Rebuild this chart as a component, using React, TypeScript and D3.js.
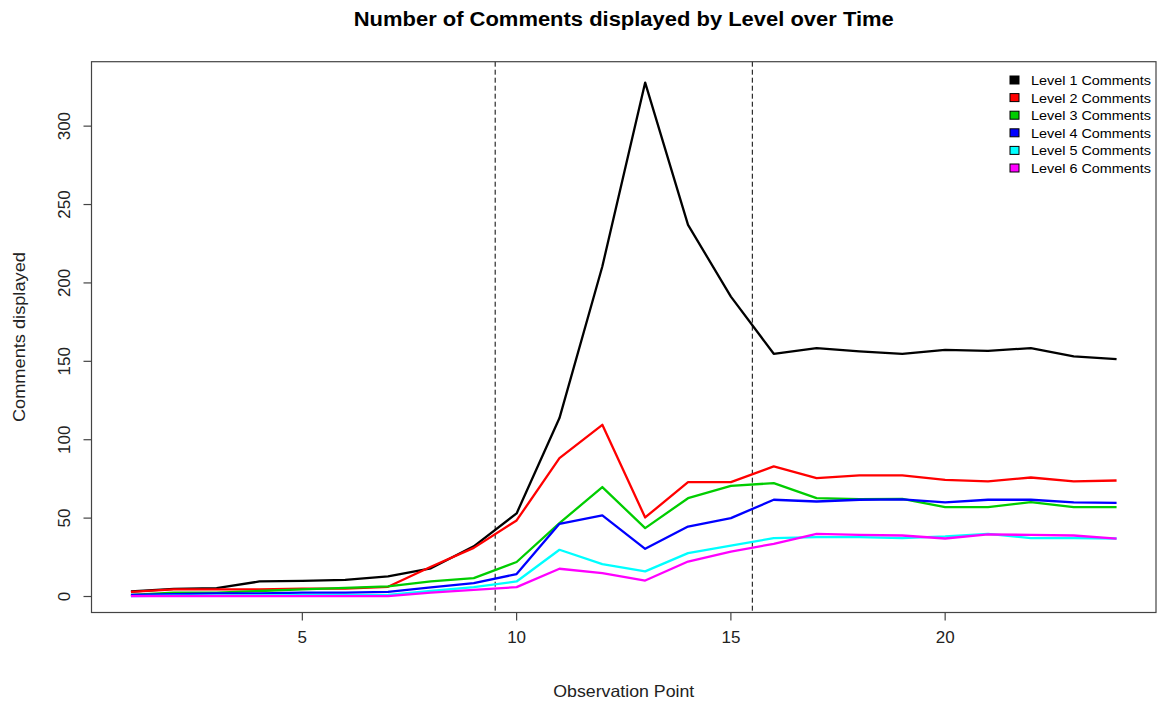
import React from "react";
import * as d3 from "d3";

const obs = d3.range(1, 25);
const level1 = [3.2, 4.9, 5.3, 9.6, 10, 10.6, 12.8, 18, 32, 53, 113.8, 210.5, 327.8, 237, 191.3, 154.8, 158.4, 156.3, 154.8, 157.3, 156.7, 158.4, 153.1, 151.4];
const level2 = [3, 4.5, 4.5, 4.5, 5, 5, 6.2, 19, 31, 48.5, 88.3, 109.5, 50.4, 73, 73, 83, 75.5, 77.2, 77.2, 74.4, 73.4, 75.9, 73.4, 74];
const level3 = [1, 2.5, 2.5, 3.5, 4.5, 5.5, 6.5, 9.6, 11.7, 22, 46.8, 69.8, 43.6, 62.7, 70.6, 72.3, 62.7, 62.1, 62.3, 57, 57, 60.2, 57, 57];
const level4 = [1, 1.5, 2, 2, 2.5, 2.5, 3, 5.8, 8.5, 14.3, 46.4, 51.7, 30.4, 44.6, 50, 61.7, 60.6, 61.7, 62, 60, 61.7, 61.7, 60, 59.7];
const level5 = [0.3, 0.5, 0.6, 0.7, 0.8, 0.9, 1, 3.5, 6, 9.6, 29.8, 20.6, 16, 27.7, 32.5, 37.2, 37.9, 37.9, 37.3, 38.3, 40, 37.3, 37.3, 37];
const level6 = [0.3, 0.3, 0.3, 0.3, 0.3, 0.3, 0.3, 2.5, 4.2, 6, 17.7, 14.9, 10.2, 22.3, 28.7, 33.6, 40, 39.3, 38.9, 37, 39.6, 39.3, 38.9, 36.9];

const seriesNames = ["Level 1 Comments", "Level 2 Comments", "Level 3 Comments", "Level 4 Comments", "Level 5 Comments", "Level 6 Comments"];
const seriesValues = [level1, level2, level3, level4, level5, level6];
const seriesColors = ["#000000", "#FF0000", "#00CD00", "#0000FF", "#00FFFF", "#FF00FF"];
const xTicks = [5, 10, 15, 20];
const yTicks = [0, 50, 100, 150, 200, 250, 300];
const vLines = [9.5, 15.5];

const W = 1160, H = 702;
const L = 91.5, R = 1156, T = 61.7, B = 612.5;
const FONT = "'Liberation Sans', Arial, sans-serif";

export default function App() {
  const x = d3.scaleLinear().domain([0.08, 24.92]).range([L, R]);
  const y = d3.scaleLinear().domain([-10.2, 341.1]).range([B, T]);
  const line = d3.line<number>().x((_, i) => x(obs[i])).y((d) => y(d));
  const legX = 1010, legY0 = 80, legDy = 17.6;
  return (
    <svg width={W} height={H} style={{ position: "absolute", left: 0, top: 0, background: "#fff" }} fontFamily={FONT}>
      <rect x={0} y={0} width={W} height={H} fill="#fff" />
      <text x={(L + R) / 2} y={26} textAnchor="middle" fontWeight="bold" fontSize={19.5} fill="#000" textLength={540} lengthAdjust="spacingAndGlyphs">
        Number of Comments displayed by Level over Time
      </text>
      {vLines.map((v) => (
        <line key={v} x1={x(v)} x2={x(v)} y1={T} y2={B} stroke="#000" strokeWidth={1} strokeDasharray="5,3" />
      ))}
      {seriesValues.map((vals, k) => (
        <path key={k} d={line(vals) || ""} fill="none" stroke={seriesColors[k]} strokeWidth={2.3} strokeLinejoin="round" />
      ))}
      <rect x={L} y={T} width={R - L} height={B - T} fill="none" stroke="#444" strokeWidth={1.2} />
      {xTicks.map((t) => (
        <g key={t}>
          <line x1={x(t)} x2={x(t)} y1={B} y2={B + 8} stroke="#444" strokeWidth={1.2} />
          <text x={x(t)} y={643} textAnchor="middle" fontSize={17} fill="#222">{t}</text>
        </g>
      ))}
      {yTicks.map((t) => (
        <g key={t}>
          <line x1={L - 8} x2={L} y1={y(t)} y2={y(t)} stroke="#444" strokeWidth={1.2} />
          <text transform={`translate(70,${y(t)}) rotate(-90)`} textAnchor="middle" fontSize={17} fill="#222">{t}</text>
        </g>
      ))}
      <text x={(L + R) / 2} y={697} textAnchor="middle" fontSize={16.5} fill="#222" textLength={141} lengthAdjust="spacingAndGlyphs">Observation Point</text>
      <text transform={`translate(25,${(T + B) / 2}) rotate(-90)`} textAnchor="middle" fontSize={16.5} fill="#222" textLength={170} lengthAdjust="spacingAndGlyphs">Comments displayed</text>
      {seriesNames.map((n, k) => (
        <g key={n}>
          <rect x={legX} y={legY0 + k * legDy - 4} width={9} height={8} fill={seriesColors[k]} stroke="#000" strokeWidth={1} />
          <text x={legX + 21} y={legY0 + k * legDy + 5} fontSize={13.5} fill="#000" textLength={120} lengthAdjust="spacingAndGlyphs">{n}</text>
        </g>
      ))}
    </svg>
  );
}
